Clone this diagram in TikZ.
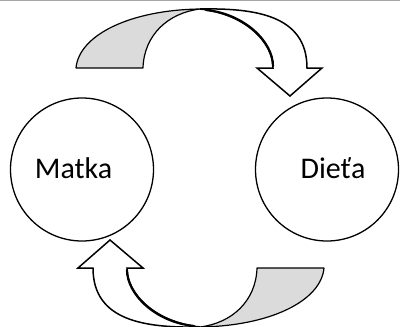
\documentclass[tikz,border=0pt]{standalone}
\usepackage{fontspec}
\setmainfont{Carlito}
\begin{document}
\begin{tikzpicture}[x=1pt,y=-1pt,
  party/.style={circle,draw=black,line width=1.3pt,minimum size=143pt,inner sep=0pt},
  label/.style={font=\fontsize{30}{32}\selectfont},
  ribbonback/.style={fill=black!14,draw=black,line width=1.2pt,line join=round},
  ribbonfront/.style={fill=white,draw=black,line width=1.5pt,line join=miter},
  twist/.style={draw=black,line width=2.2pt,line cap=round}]
\useasboundingbox (0,0) rectangle (400,327);
\draw[black!35,line width=1pt] (0,0.5) -- (400,0.5);
\node[party] (m) at (82,169.5) {};
\node[party] (d) at (327,169.5) {};
\node[label] (mt) at (73.5,168) {Matka};
\node[label] (dt) at (333,168) {Dieťa};
\foreach \r in {0,180}{
\begin{scope}[rotate around={\r:(200,168)}]
\draw[ribbonback] (76,68) .. controls (79,35) and (130,10) .. (200,9)
   .. controls (168,13) and (144,35) .. (143,68) -- cycle;
\draw[ribbonfront] (200,9) .. controls (255,8) and (307,15) .. (307,68)
   -- (322,68) -- (290,96) -- (257,68) -- (273,68)
   .. controls (273,42) and (245,14) .. (200,9) -- cycle;
\draw[twist] (273,66) .. controls (273,42) and (245,14) .. (206,10);
\end{scope}}
\end{tikzpicture}
\end{document}
